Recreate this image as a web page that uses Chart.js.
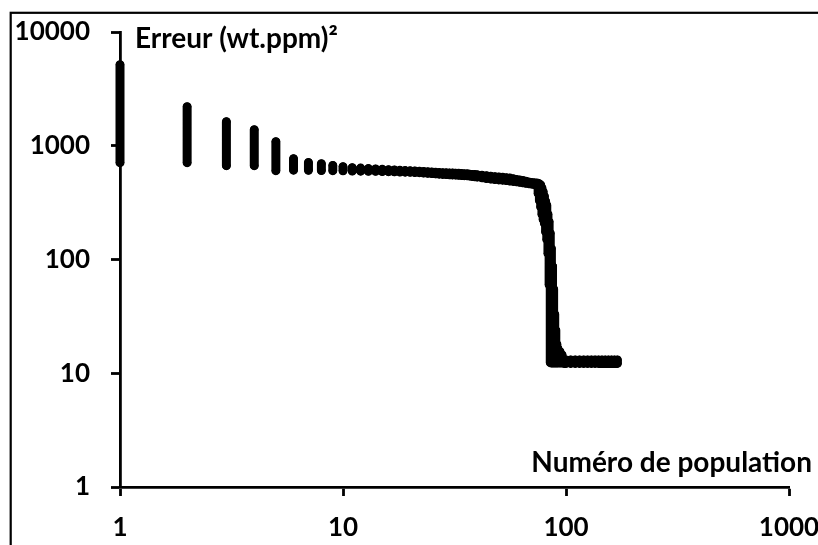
<!DOCTYPE html>
<html>
<head>
<meta charset="utf-8">
<script src="https://cdn.jsdelivr.net/npm/chart.js@4.4.0/dist/chart.umd.min.js"></script>
<style>
  html, body { margin: 0; padding: 0; background: #fff; }
  #wrap { width: 818px; height: 545px; }
</style>
</head>
<body>
<div id="wrap"><canvas id="errorChart" width="818" height="545"></canvas></div>
<script>
// population number, and the lowest / highest error seen in that population
const populations = [1, 2, 3, 4, 5, 6, 7, 8, 9, 10, 11, 12, 13, 14, 15, 16, 17, 18, 19, 20, 21, 22, 23,
    24, 25, 26, 27, 28, 29, 30, 31, 32, 33, 34, 35, 36, 37, 38, 39, 40, 42, 44, 46, 48, 50, 52, 54, 56,
    58, 60, 62, 64, 66, 68, 70, 72, 74, 75, 76, 77, 78, 79, 80, 81, 82, 83, 84, 85, 86, 87, 88, 89, 90,
    91, 92, 94, 96, 98, 100, 105, 110, 115, 120, 125, 130, 135, 140, 145, 150, 155, 160, 165, 170];
const minError = [710, 710, 668, 668, 604, 610, 608, 606, 604, 602, 600, 598, 597, 596, 594, 592, 590,
    588, 586, 585, 582, 580, 576, 572, 569, 566, 563, 560, 558, 556, 554, 552, 550, 548, 546, 545, 541,
    537, 534, 530, 522, 515, 510, 505, 501, 498, 494, 490, 486, 482, 477, 472, 468, 464, 460, 455, 440,
    381, 330, 290, 250, 225, 208, 175, 150, 113, 60, 12.4, 12.3, 12.3, 12.3, 12.3, 12.3, 12.3, 12.3,
    12.3, 12.3, 12.2, 12.2, 12.2, 12.2, 12.2, 12.2, 12.2, 12.2, 12.2, 12.2, 12.2, 12.2, 12.2, 12.2,
    12.2, 12.2];
const maxError = [5150, 2205, 1628, 1384, 1086, 770, 712, 695, 672, 655, 642, 636, 630, 625, 620, 616,
    612, 608, 605, 602, 600, 597, 594, 590, 587, 584, 582, 580, 578, 577, 576, 574, 572, 570, 568, 566,
    563, 560, 558, 555, 550, 545, 540, 535, 531, 528, 524, 520, 512, 505, 500, 495, 487, 480, 476, 472,
    470, 468, 462, 452, 425, 395, 360, 325, 300, 250, 215, 170, 125, 88, 55, 33, 24, 18, 16.5, 15.5,
    14.5, 13.3, 13.1, 13.1, 13.1, 13.1, 13.1, 13.1, 13.1, 13.1, 13.1, 13.1, 13.1, 13.1, 13.1, 13.1, 13.1];

const xTickValues = [1, 10, 100, 1000];
const yTickValues = [1, 10, 100, 1000, 10000];
const yTitle = "Erreur (wt.ppm)²";
const xTitle = "Numéro de population";

const FONT = "Lato";

// each population becomes a short vertical run from min to max, then a gap
const points = [];
populations.forEach((p, i) => {
    points.push({ x: p, y: minError[i] });
    points.push({ x: p, y: maxError[i] });
    points.push({ x: p, y: null });
});

const framePlugin = {
    id: "frame",
    beforeDraw(chart) {
        const ctx = chart.ctx;
        ctx.save();
        ctx.fillStyle = "#fff";
        ctx.fillRect(0, 0, chart.width, chart.height);
        ctx.strokeStyle = "#000";
        ctx.lineWidth = 2.2;
        ctx.strokeRect(10.7, 12.8, 1000, 1000);
        ctx.restore();
    },
    afterDraw(chart) {
        const ctx = chart.ctx;
        ctx.save();
        ctx.fillStyle = "#000";
        ctx.font = `bold 28px ${FONT}`;
        ctx.textBaseline = "alphabetic";
        ctx.textAlign = "left";
        ctx.fillText(yTitle, 135, 48);
        ctx.textAlign = "right";
        ctx.fillText(xTitle, 812, 472);
        ctx.restore();
    }
};

const ctx = document.getElementById("errorChart").getContext("2d");
const chart = new Chart(ctx, {
    type: "scatter",
    data: {
        datasets: [{
            data: points,
            showLine: true,
            spanGaps: false,
            borderColor: "#000",
            borderWidth: 9,
            borderCapStyle: "round",
            backgroundColor: "#000",
            pointBackgroundColor: "#000",
            pointBorderColor: "#000",
            pointBorderWidth: 1,
            pointRadius: 3.8,
            clip: false
        }]
    },
    options: {
        responsive: false,
        devicePixelRatio: 1,
        animation: false,
        events: [],
        layout: { padding: { left: 0, top: 32, right: 29, bottom: 0 } },
        plugins: {
            legend: { display: false },
            tooltip: { enabled: false }
        },
        scales: {
            x: {
                type: "logarithmic",
                min: 1,
                max: 1000,
                afterBuildTicks: (scale) => {
                    scale.ticks = xTickValues.map(v => ({ value: v }));
                },
                afterFit: (scale) => {
                    scale.height = 58;
                    scale.paddingLeft = 0;
                    scale.paddingRight = 0;
                },
                border: { display: true, color: "#000", width: 2.8 },
                grid: {
                    drawOnChartArea: false,
                    drawTicks: true,
                    tickLength: 9,
                    tickWidth: 2.8,
                    tickColor: "#000"
                },
                ticks: {
                    autoSkip: false,
                    maxRotation: 0,
                    color: "#000",
                    padding: 16,
                    font: { family: FONT, size: 26, weight: "bold" },
                    callback: (v) => String(v)
                }
            },
            y: {
                type: "logarithmic",
                min: 1,
                max: 10000,
                afterBuildTicks: (scale) => {
                    scale.ticks = yTickValues.map(v => ({ value: v }));
                },
                afterFit: (scale) => {
                    scale.width = 120;
                    scale.paddingTop = 0;
                    scale.paddingBottom = 0;
                },
                border: { display: true, color: "#000", width: 2.8 },
                grid: {
                    drawOnChartArea: false,
                    drawTicks: true,
                    tickLength: 9,
                    tickWidth: 2.8,
                    tickColor: "#000"
                },
                ticks: {
                    autoSkip: false,
                    color: "#000",
                    padding: 21,
                    font: { family: FONT, size: 26, weight: "bold" },
                    callback: (v) => String(v)
                }
            }
        }
    },
    plugins: [framePlugin]
});
</script>
</body>
</html>
